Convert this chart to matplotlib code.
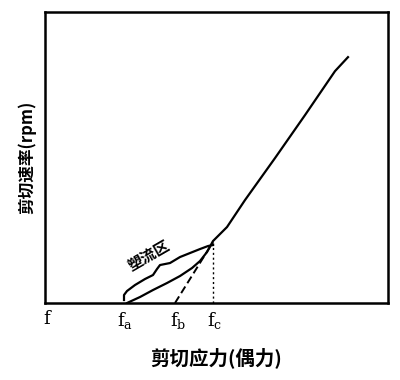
import matplotlib
matplotlib.use("Agg")
import matplotlib.pyplot as plt

plt.rcParams['font.family'] = ['Noto Sans CJK SC', 'DejaVu Sans']
plt.rcParams['mathtext.fontset'] = 'dejavuserif'

# flow curve (shear stress, shear rate), arbitrary units
curve_x = [82, 95, 108, 122, 135, 147, 155, 162, 168, 176, 182, 200, 230, 260, 290, 303]
curve_y = [0, 6, 13, 20, 27, 35, 42, 51, 62, 70, 76, 103, 145, 188, 232, 246]

# brace marking the plastic flow zone
brace_x = [79, 79, 82, 90, 100, 108, 112, 115, 125, 135, 145, 155, 163, 168]
brace_y = [3, 8, 12, 18, 24, 28, 34, 38, 40, 46, 50, 54, 57, 58]

# extrapolated dashed line fb -> fc
dash_x = [130, 168]
dash_y = [0, 61]

# vertical dotted line at fc
fc_x = [168, 168]
fc_y = [0, 60]

tick_pos = [3, 80, 133, 170]
tick_labels = [r'$\mathrm{f}$', r'$\mathrm{f}_\mathrm{a}$', r'$\mathrm{f}_\mathrm{b}$', r'$\mathrm{f}_\mathrm{c}$']

fig = plt.figure(figsize=(4, 3.8), dpi=100)
ax = fig.add_axes([0.1125, 0.2026, 0.8575, 0.7654])

ax.plot(curve_x, curve_y, color='black', lw=1.6)
ax.plot(brace_x, brace_y, color='black', lw=1.6)
ax.plot(dash_x, dash_y, color='black', lw=1.4, ls=(0, (4, 2)))
ax.plot(fc_x, fc_y, color='black', lw=1.0, ls=(0, (1.5, 2)))

ax.text(104, 47, '塑流区', rotation=30, fontsize=11, fontweight='bold',
        ha='center', va='center')

ax.set_xlim(0, 343)
ax.set_ylim(0, 291)
ax.set_xticks(tick_pos)
ax.set_xticklabels(tick_labels, fontsize=13)
ax.tick_params(axis='x', length=0, pad=5)
ax.set_yticks([])
for s in ax.spines.values():
    s.set_linewidth(1.8)

ax.set_xlabel('剪切应力(偶力)', fontsize=14, fontweight='bold', labelpad=12)
ax.set_ylabel('剪切速率(rpm)', fontsize=12, fontweight='bold', labelpad=6)

fig.savefig('out.png', dpi=100)
